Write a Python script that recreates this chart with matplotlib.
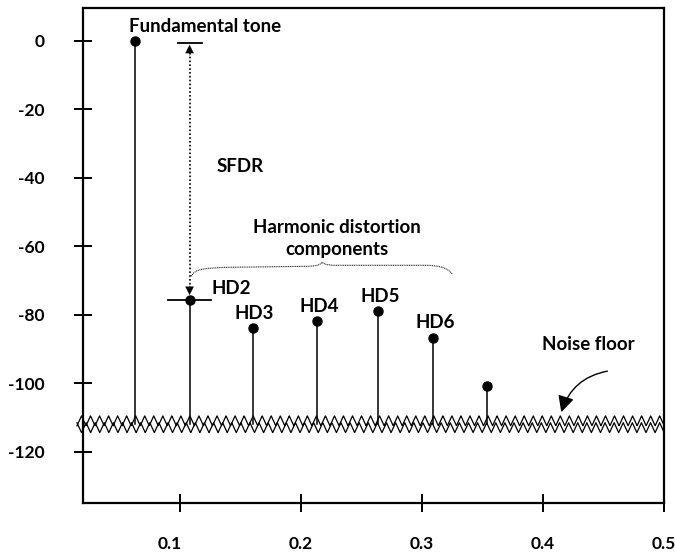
import matplotlib

matplotlib.use("Agg")
import matplotlib.pyplot as plt
import matplotlib.transforms as mtransforms
import numpy as np
from matplotlib.path import Path
from matplotlib.patches import PathPatch

plt.rcParams["font.family"] = ["Lato", "DejaVu Sans"]
plt.rcParams["font.weight"] = "bold"

# spectral lines (normalised frequency, dBFS)
tone_names = ["Fundamental tone", "HD2", "HD3", "HD4", "HD5", "HD6", ""]
tone_freq = [0.063, 0.108, 0.160, 0.213, 0.264, 0.309, 0.354]
tone_level = [0.0, -75.6, -84.0, -82.0, -79.0, -86.7, -100.7]

x_ticks = [0.1, 0.2, 0.3, 0.4, 0.5]
y_ticks = [0, -20, -40, -60, -80, -100, -120]

# noise floor drawn as two zigzag ripples
noise_upper = -111.0
noise_lower = -113.0
ripple = 1.45
stem_bottom = -112.0

FS = 13.5

fig = plt.figure(figsize=(6.75, 5.53), dpi=100)
ax = fig.add_axes([0.123, 0.0904, 0.861, 0.895])
ax.set_xlim(0.02, 0.5)
ax.set_ylim(-135, 9.5)

# stems + dots
for f, lvl in zip(tone_freq, tone_level):
    ax.plot([f, f], [stem_bottom, lvl], color="black", lw=1.1, zorder=3)
ax.plot(tone_freq, tone_level, "o", color="black", ms=6.5, zorder=4)

# labels for the harmonics
ax.text(tone_freq[0] + 0.058, 4.0, tone_names[0], ha="center", va="center", fontsize=FS)
ax.annotate(tone_names[1], (tone_freq[1], tone_level[1]), xytext=(16, 8),
            textcoords="offset points", ha="left", va="center", fontsize=FS)
for name, f, lvl in zip(tone_names[2:6], tone_freq[2:6], tone_level[2:6]):
    ax.annotate(name, (f, lvl), xytext=(1.5, 10.5), textcoords="offset points",
                ha="center", va="center", fontsize=FS)

# noise floor zigzags
xs = np.linspace(0.015, 0.5, 4001)
t = (xs - 0.015) / 0.485


def tri(ph):
    return 2 * np.abs(2 * (ph - np.floor(ph + 0.5))) - 1


ax.plot(xs, noise_upper + ripple * tri(65 * t), color="black", lw=0.9,
        zorder=2, clip_on=False)
ax.plot(xs, noise_lower + ripple * tri(64.5 * t + 0.5), color="black", lw=0.9,
        zorder=2, clip_on=False)

# SFDR marker
f2 = tone_freq[1]
ax.plot([f2, f2], [-2.5, -72.5], color="black", lw=1.2, ls=(0, (1, 1.3)))
ax.plot([0.0985, 0.1183], [-0.6, -0.6], color="black", lw=1.3)
ax.plot([0.0902, 0.1258], [tone_level[1], tone_level[1]], color="black", lw=1.3)
head = dict(arrowstyle="-|>,head_length=0.6,head_width=0.3", color="black",
            lw=0.1, mutation_scale=10, shrinkA=0, shrinkB=0)
ax.annotate("", (f2, -1.2), xytext=(f2, -4.5), arrowprops=head)
ax.annotate("", (f2, -74.3), xytext=(f2, -71.0), arrowprops=head)
ax.text(0.130, -36.8, "SFDR", ha="left", va="center", fontsize=FS)

# brace over the harmonics
brace_pts = [(0.1093, -68.8), (0.1126, -66.5), (0.1208, -66.5), (0.1374, -66.2),
             (0.2035, -65.9),
             (0.2117, -65.9), (0.2159, -65.6), (0.2175, -64.7),
             (0.2200, -65.6), (0.2241, -65.6), (0.2324, -65.6),
             (0.3026, -65.6),
             (0.3150, -65.6), (0.3217, -66.5), (0.3250, -68.2)]
codes = [Path.MOVETO, Path.CURVE4, Path.CURVE4, Path.CURVE4, Path.LINETO,
         Path.CURVE4, Path.CURVE4, Path.CURVE4,
         Path.CURVE4, Path.CURVE4, Path.CURVE4, Path.LINETO,
         Path.CURVE4, Path.CURVE4, Path.CURVE4]
ax.add_patch(PathPatch(Path(brace_pts, codes), fill=False, lw=0.8,
                       ls=(0, (1, 0.6)), ec="#333333"))
ax.text(0.2295, -57.8, "Harmonic distortion\ncomponents", ha="center",
        va="center", fontsize=FS, linespacing=1.4)

# noise floor callout
ax.text(0.4375, -88.8, "Noise floor", ha="center", va="center", fontsize=FS)
ax.annotate("", (0.415, -108.5), xytext=(0.4531, -96.5),
            arrowprops=dict(arrowstyle="-|>,head_length=0.7,head_width=0.35",
                            color="black", lw=1.0, mutation_scale=14,
                            connectionstyle="arc3,rad=0.3", shrinkA=0, shrinkB=0))

ax.set_xticks(x_ticks)
ax.set_xticklabels([f"{v:g}" for v in x_ticks])
ax.set_yticks(y_ticks)
ax.set_yticklabels([f"{v:g}" for v in y_ticks])
ax.tick_params(direction="inout", length=13, width=1.4, labelsize=12.5)
ax.tick_params(axis="x", pad=17)
ax.tick_params(axis="y", pad=21)
for s in ax.spines.values():
    s.set_linewidth(1.6)

# the 0.1 label sits a little left of its tick in the original
lab = ax.get_xticklabels()[0]
lab.set_transform(lab.get_transform()
                  + mtransforms.ScaledTranslation(-7 / 72, 0, fig.dpi_scale_trans))

fig.savefig("out.png", dpi=100)
